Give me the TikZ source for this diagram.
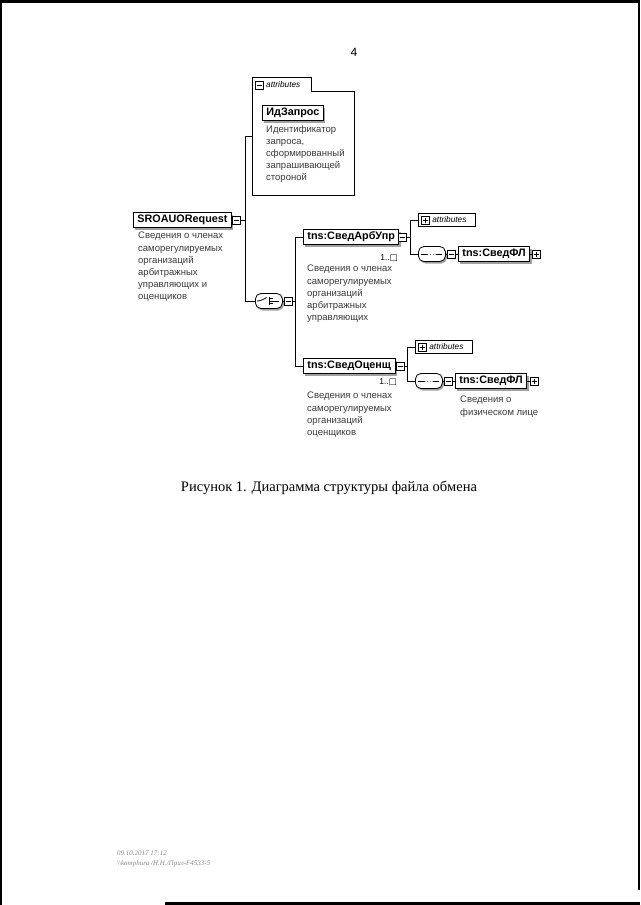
\documentclass[tikz,border=0pt]{standalone}
\usepackage{fontspec}
\setmainfont{Liberation Serif}
\setsansfont{Liberation Sans}
\newfontfamily\symfont{DejaVu Sans}
\usetikzlibrary{positioning,calc,shadows}
\definecolor{shade}{HTML}{A0A0A0}
\definecolor{notes}{HTML}{3A3A3A}
\definecolor{stamp}{HTML}{8A8A8A}

\tikzset{
  elem/.style={draw,fill=white,line width=0.9pt,anchor=west,inner xsep=4pt,inner ysep=0pt,
    minimum height=15pt,font=\sffamily\bfseries\fontsize{10.8}{12}\selectfont,
    general shadow={fill=shade,shadow xshift=2pt,shadow yshift=-2.5pt}},
  descr/.style={anchor=north west,inner sep=0pt,align=left,text=notes,
    font=\sffamily\fontsize{9.5}{12.2}\selectfont},
  minusbox/.style={draw,fill=white,line width=0.7pt,minimum size=8pt,inner sep=0pt,
    path picture={\draw[line width=0.7pt] ([xshift=1.5pt]path picture bounding box.west)
      -- ([xshift=-1.5pt]path picture bounding box.east);}},
  plusbox/.style={minusbox,
    path picture={\draw[line width=0.7pt] ([xshift=1.5pt]path picture bounding box.west)
      -- ([xshift=-1.5pt]path picture bounding box.east)
      ([yshift=-1.5pt]path picture bounding box.north) -- ([yshift=1.5pt]path picture bounding box.south);}},
  attrbox/.style={draw,fill=white,line width=0.7pt,anchor=west,minimum height=13pt,
    minimum width=57pt,inner xsep=2pt,inner ysep=0pt,text=black,align=left,
    text width=53pt,font=\sffamily\itshape\fontsize{8.3}{9}\selectfont},
  comp/.style={draw,fill=white,line width=0.8pt,anchor=west,rounded corners=5.5pt,
    minimum width=27pt,minimum height=15pt,inner sep=0pt,
    general shadow={fill=shade,shadow xshift=1.5pt,shadow yshift=-2pt}},
  seqmark/.style={path picture={
    \draw[line width=0.8pt] ([xshift=3pt]path picture bounding box.west)
      -- ([xshift=-3pt]path picture bounding box.east);
    \foreach \dx in {-2.8,0,2.8}
      \fill ([xshift=\dx pt]path picture bounding box.center) circle (1.5pt);}},
  choicemark/.style={path picture={
    \draw[line width=0.8pt] ([xshift=3pt]path picture bounding box.west) -- ++(4pt,0pt)
      -- ++(4pt,3.5pt);
    \draw[line width=0.9pt] ([xshift=1pt]path picture bounding box.center) ++(0pt,-4pt) -- ++(0pt,8pt);
    \foreach \dy in {-2.7,0,2.7}
      \draw[line width=0.8pt] ([xshift=1pt,yshift=\dy pt]path picture bounding box.center) -- ++(3.5pt,0pt);
    \draw[line width=0.8pt] ([xshift=4.5pt]path picture bounding box.center) -- ([xshift=-3pt]path picture bounding box.east);}},
  wire/.style={line width=0.8pt},
  occ/.style={anchor=north east,inner sep=0pt,font=\sffamily\fontsize{8.5}{9}\selectfont}
}

\begin{document}
\begin{tikzpicture}[x=1pt,y=-1pt]
\useasboundingbox (0,0) rectangle (640,905);
\fill[white] (0,0) rectangle (640,905);

% scan edges
\fill[black] (0,0) rectangle (640,3);
\fill[black] (0,0) rectangle (2,905);
\fill[black] (637.5,0) rectangle (640,890);
\fill[black] (165,902) rectangle (640,905);

\node[font=\sffamily\fontsize{12}{14}\selectfont] (pageno) at (354,52) {4};

% ---- root element ----
\node[elem] (req) at (133,220) {SROAUORequest};
\node[minusbox] (req_m) at (236,220) {};
\node[descr] (req_d) at (138,232) {Сведения о членах\\саморегулируемых\\организаций\\арбитражных\\управляющих и\\оценщиков};

% ---- attributes of root ----
\node[minimum width=101pt,minimum height=117pt,inner sep=0pt] (attr_a) at (303.5,136.5) {};
\draw[line width=0.8pt,fill=white] (attr_a.north west) -- ([xshift=59pt]attr_a.north west)
  -- ([xshift=59pt,yshift=-14pt]attr_a.north west) -- ([yshift=-14pt]attr_a.north east)
  -- (attr_a.south east) -- (attr_a.south west) -- cycle;
\node[minusbox] (attr_a_m) at (259,85) {};
\node[anchor=west,inner sep=0pt,font=\sffamily\itshape\fontsize{8.3}{9}\selectfont] (attr_a_t) at (266,85) {attributes};
\node[elem] (idz) at (262,113) {ИдЗапрос};
\node[descr] (idz_d) at (266,125) {Идентификатор\\запроса,\\сформированный\\запрашивающей\\стороной};

% ---- choice ----
\node[comp,choicemark] (ch) at (255,301) {};
\node[minusbox] (ch_m) at (288,301) {};

\coordinate (j1) at (245,220);
\draw[wire] (req.east) -- (req_m.west);
\draw[wire] (req_m.east) -- (j1);
\draw[wire] (j1) |- (attr_a.west);
\draw[wire] (j1) |- (ch.west);
\draw[wire] (ch.east) -- (ch_m.west);

% ---- СведАрбУпр ----
\node[elem] (arb) at (303,237) {tns:СведАрбУпр};
\node[minusbox] (arb_m) at (402,237) {};
\node[occ] (arb_o) at (398,254) {1..{\symfont □}};
\node[descr] (arb_d) at (307,265) {Сведения о членах\\саморегулируемых\\организаций\\арбитражных\\управляющих};

% ---- СведОценщ ----
\node[elem] (oc) at (303,366) {tns:СведОценщ};
\node[minusbox] (oc_m) at (400,366) {};
\node[occ] (oc_o) at (397,378) {1..{\symfont □}};
\node[descr] (oc_d) at (307,392) {Сведения о членах\\саморегулируемых\\организаций\\оценщиков};

\coordinate (j2) at (295,301);
\draw[wire] (ch_m.east) -- (j2);
\draw[wire] (j2) |- (arb.west);
\draw[wire] (j2) |- (oc.west);
\draw[wire] (arb.east) -- (arb_m.west);
\draw[wire] (oc.east) -- (oc_m.west);

% ---- children of СведАрбУпр ----
\node[attrbox] (attr_b) at (418,220) {\hspace*{12pt}attributes};
\node[plusbox] (attr_b_p) at ([xshift=7pt]attr_b.west) {};
\node[comp,seqmark] (seq_b) at (418,254) {};
\node[minusbox] (seq_b_m) at (451,254) {};
\node[elem] (fl_b) at (458,254) {tns:СведФЛ};
\node[plusbox] (fl_b_p) at (536,254) {};

\coordinate (j3) at (410,237);
\draw[wire] (arb_m.east) -- (j3);
\draw[wire] (j3) |- (attr_b.west);
\draw[wire] (j3) |- (seq_b.west);
\draw[wire] (seq_b.east) -- (seq_b_m.west);
\draw[wire] (seq_b_m.east) -- (fl_b.west);
\draw[wire] (fl_b.east) -- (fl_b_p.west);

% ---- children of СведОценщ ----
\node[attrbox] (attr_c) at (415,347) {\hspace*{12pt}attributes};
\node[plusbox] (attr_c_p) at ([xshift=7pt]attr_c.west) {};
\node[comp,seqmark] (seq_c) at (415,381) {};
\node[minusbox] (seq_c_m) at (448,381) {};
\node[elem] (fl_c) at (455,381) {tns:СведФЛ};
\node[plusbox] (fl_c_p) at (534,381) {};
\node[descr] (fl_c_d) at (460,396) {Сведения о\\физическом лице};

\coordinate (j4) at (407,366);
\draw[wire] (oc_m.east) -- (j4);
\draw[wire] (j4) |- (attr_c.west);
\draw[wire] (j4) |- (seq_c.west);
\draw[wire] (seq_c.east) -- (seq_c_m.west);
\draw[wire] (seq_c_m.east) -- (fl_c.west);
\draw[wire] (fl_c.east) -- (fl_c_p.west);

% caption and stamp
\node[font=\fontsize{14.5}{16}\selectfont] (caption) at (329,488) {Рисунок 1. Диаграмма структуры файла обмена};
\node[anchor=north west,inner sep=0pt,align=left,text=stamp,font=\itshape\fontsize{7}{9.5}\selectfont] (stamp) at (117,851) {09.10.2017 17:12\\\textbackslash\textbackslash komphura /Н.Н./Прил-F4533-5};
\end{tikzpicture}
\end{document}
